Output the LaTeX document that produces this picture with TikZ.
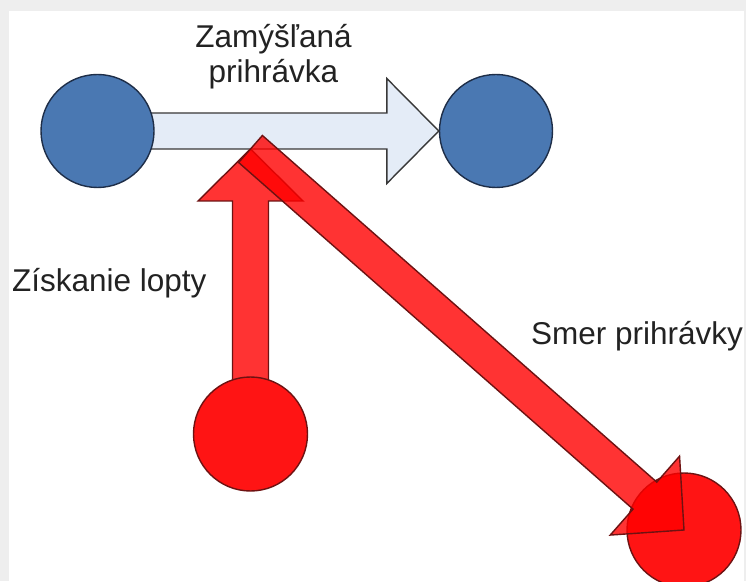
\documentclass[tikz,border=0pt]{standalone}
\usepackage{fontspec}
\setmainfont{Liberation Sans}
\usetikzlibrary{calc}
\definecolor{ink}{HTML}{222222}
\definecolor{frame}{HTML}{EEEEEE}
\definecolor{blueA}{HTML}{4A78B2}
\definecolor{blueE}{HTML}{1E2E48}
\definecolor{paleB}{HTML}{E4ECF7}
\definecolor{redA}{HTML}{FF1414}
\definecolor{redE}{HTML}{6E1212}
\definecolor{redF}{HTML}{FF0000}
\tikzset{
  caption/.style={font=\fontsize{31.5}{35}\selectfont, text=ink, inner sep=0pt},
  bluedot/.style={circle, draw=blueE, line width=1.4pt, fill=blueA, minimum size=113pt, inner sep=0pt},
  reddot/.style={circle, draw=redE, line width=1.4pt, fill=redA, minimum size=114pt, inner sep=0pt},
  passarrow/.style={draw=ink!90, line width=1.4pt, fill=paleB},
  redarrow/.style={draw=redE, line width=1.4pt, fill=redF, fill opacity=0.8}
}
% block arrow: style, from, to (shaft 36, head 105 wide, 52 long)
\newcommand{\blockarrow}[3]{%
  \draw[#1] let \p1=($(#3)-(#2)$), \n1={atan2(\y1,\x1)}, \n2={veclen(\x1,\y1)-52} in
    ($(#2)+(\n1+90:18)$) -- ($(#2)+(\n1:\n2)+(\n1+90:18)$) -- ($(#2)+(\n1:\n2)+(\n1+90:52.5)$)
    -- (#3) -- ($(#2)+(\n1:\n2)+(\n1-90:52.5)$) -- ($(#2)+(\n1:\n2)+(\n1-90:18)$)
    -- ($(#2)+(\n1-90:18)$) -- cycle;
}

\begin{document}
\begin{tikzpicture}[x=1pt,y=1pt]
\useasboundingbox (0,0) rectangle (746,581);
\fill[frame] (0,0) rectangle (746,581);
\fill[white] (9,0) rectangle (744,570);

% intended pass
\coordinate (passpos) at (97.5,450);
\node[bluedot] (receiver) at (496,450) {};
\blockarrow{passarrow}{passpos}{receiver.west}
\node[bluedot] (passer) at (passpos) {};
\node[caption, align=center] (intended) at (273.5,524) {Zamýšľaná\\prihrávka};

% ball won
\coordinate (gainpos) at (250.5,147);
\coordinate (catch) at (250.5,432);
\blockarrow{redarrow}{gainpos}{catch}
\node[reddot] (gainer) at (gainpos) {};
\node[caption, anchor=base west] (won) at (12,289) {Získanie lopty};

% direction of the pass
\node[reddot] (keeper) at (684,51) {};
\blockarrow{redarrow}{catch}{keeper.center}
\node[caption, anchor=base west] (direction) at (531,236) {Smer prihrávky};

\end{tikzpicture}
\end{document}
